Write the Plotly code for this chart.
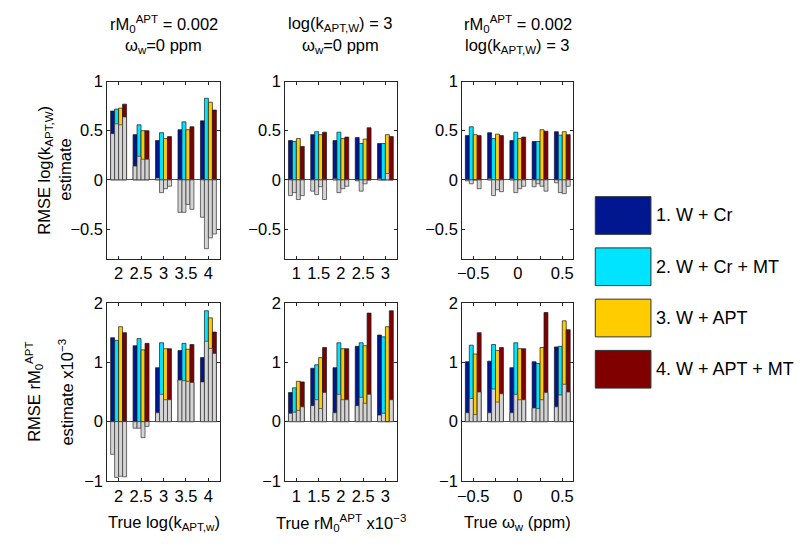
import plotly.graph_objects as go

# ---------------- data ----------------
methods = ["1. W + Cr", "2. W + Cr + MT", "3. W + APT", "4. W + APT + MT"]
colors = ["#00178f", "#00e4ff", "#ffcc00", "#800000"]
bias_color = "#d4d4d4"

x_logk = [2, 2.5, 3, 3.5, 4]
x_rm0 = [1, 1.5, 2, 2.5, 3]
x_omega = [-0.5, -0.25, 0, 0.25, 0.5]

xticktext_logk = ["2", "2.5", "3", "3.5", "4"]
xticktext_rm0 = ["1", "1.5", "2", "2.5", "3"]
xticktext_omega = ["\u22120.5", "", "0", "", "0.5"]

# RMSE of log(k_APT,W) estimate (rows = methods 1..4)
k_rmse_vs_logk = [[0.70, 0.46, 0.40, 0.51, 0.60],
                  [0.72, 0.56, 0.48, 0.59, 0.83],
                  [0.73, 0.50, 0.42, 0.51, 0.79],
                  [0.77, 0.50, 0.44, 0.54, 0.71]]
k_bias_vs_logk = [[0.47, 0.14, 0.02, -0.33, -0.38],
                  [0.57, 0.24, -0.13, -0.33, -0.70],
                  [0.56, 0.21, -0.09, -0.25, -0.59],
                  [0.64, 0.21, -0.065, -0.30, -0.55]]

k_rmse_vs_rm0 = [[0.40, 0.46, 0.40, 0.43, 0.37],
                 [0.39, 0.49, 0.485, 0.37, 0.37],
                 [0.42, 0.46, 0.42, 0.415, 0.46],
                 [0.34, 0.485, 0.435, 0.53, 0.44]]
k_bias_vs_rm0 = [[-0.16, -0.115, 0.015, -0.01, 0.015],
                 [-0.13, -0.15, -0.13, -0.115, 0.0],
                 [-0.20, -0.07, -0.09, -0.04, 0.065],
                 [-0.16, -0.20, -0.065, 0.0, 0.0]]

k_rmse_vs_omega = [[0.45, 0.48, 0.40, 0.39, 0.49],
                   [0.54, 0.42, 0.485, 0.39, 0.455],
                   [0.46, 0.465, 0.42, 0.51, 0.49],
                   [0.45, 0.45, 0.435, 0.495, 0.46]]
k_bias_vs_omega = [[-0.01, 0.015, 0.015, -0.07, -0.03],
                   [-0.04, -0.16, -0.13, -0.04, -0.13],
                   [0.0, -0.10, -0.09, -0.065, -0.14],
                   [-0.09, -0.12, -0.065, -0.115, -0.065]]

# RMSE of rM0^APT estimate (x10^-3)
m_rmse_vs_logk = [[1.415, 1.28, 0.91, 1.20, 1.08],
                  [1.37, 1.40, 1.33, 1.32, 1.87],
                  [1.60, 1.21, 1.23, 1.22, 1.75],
                  [1.50, 1.32, 1.23, 1.30, 1.51]]
m_bias_vs_logk = [[-0.55, -0.11, 0.15, 0.70, 0.67],
                  [-0.94, -0.11, 0.46, 0.69, 1.355],
                  [-0.92, -0.27, 0.37, 0.68, 1.235],
                  [-0.93, -0.08, 0.37, 0.66, 1.15]]

m_rmse_vs_rm0 = [[0.49, 0.90, 0.91, 1.27, 1.46],
                 [0.57, 0.96, 1.33, 1.33, 1.43],
                 [0.68, 1.08, 1.23, 1.28, 1.60],
                 [0.67, 1.25, 1.23, 1.83, 1.87]]
m_bias_vs_rm0 = [[0.14, 0.27, 0.15, 0.27, 0.11],
                 [0.16, 0.37, 0.46, 0.41, 0.14],
                 [0.19, 0.22, 0.37, 0.31, 0.0],
                 [0.25, 0.49, 0.37, 0.46, 0.37]]

m_rmse_vs_omega = [[1.01, 1.02, 0.91, 1.01, 1.26],
                   [1.29, 1.30, 1.33, 0.98, 1.27],
                   [1.14, 1.20, 1.23, 1.25, 1.70],
                   [1.50, 1.25, 1.23, 1.84, 1.55]]
m_bias_vs_omega = [[0.15, 0.15, 0.15, 0.23, 0.25],
                   [0.39, 0.55, 0.46, 0.22, 0.45],
                   [0.12, 0.33, 0.37, 0.37, 0.63],
                   [0.50, 0.47, 0.37, 0.49, 0.50]]

col_titles = [["rM<sub>0</sub><sup>APT</sup> = 0.002", "\u03c9<sub>w</sub>=0 ppm"],
              ["log(k<sub>APT,W</sub>) = 3", "\u03c9<sub>w</sub>=0 ppm"],
              ["rM<sub>0</sub><sup>APT</sup> = 0.002", "log(k<sub>APT,W</sub>) = 3"]]
x_titles = ["True log(k<sub>APT,w</sub>)",
            "True rM<sub>0</sub><sup>APT</sup> x10<sup>\u22123</sup>",
            "True \u03c9<sub>w</sub> (ppm)"]
y_titles = [["RMSE log(k<sub>APT,W</sub>)", "estimate"],
            ["RMSE rM<sub>0</sub><sup>APT</sup>", "estimate x10<sup>\u22123</sup>"]]

# ---------------- layout geometry ----------------
W, H = 800, 548
FONT = "Liberation Sans, Arial, Helvetica, sans-serif"
FS = 16.5
col_px = [(103, 216), (282, 394), (460, 572)]
row_px = [(75, 258), (304, 488)]
row_ranges = [[-0.8, 1], [-1, 2]]
row_ticks = [([-0.5, 0, 0.5, 1], ["\u22120.5", "0", "0.5", "1"]),
             ([-1, 0, 1, 2], ["\u22121", "0", "1", "2"])]
col_x = [x_logk, x_rm0, x_omega]
col_ticktext = [xticktext_logk, xticktext_rm0, xticktext_omega]
col_ranges = [[1.75, 4.25], [0.75, 3.25], [-0.625, 0.625]]

panels = [
    (0, 0, k_rmse_vs_logk, k_bias_vs_logk),
    (0, 1, k_rmse_vs_rm0, k_bias_vs_rm0),
    (0, 2, k_rmse_vs_omega, k_bias_vs_omega),
    (1, 0, m_rmse_vs_logk, m_bias_vs_logk),
    (1, 1, m_rmse_vs_rm0, m_bias_vs_rm0),
    (1, 2, m_rmse_vs_omega, m_bias_vs_omega),
]

fig = go.Figure()
layout_axes = {}
for i, (r, c, rmse, bias) in enumerate(panels):
    n = i + 1
    xa = "x" if n == 1 else f"x{n}"
    ya = "y" if n == 1 else f"y{n}"
    xs = col_x[c]
    for m in range(4):
        fig.add_trace(go.Bar(x=xs, y=rmse[m], xaxis=xa, yaxis=ya,
                             offsetgroup=str(m), name=methods[m], showlegend=False,
                             marker=dict(color=colors[m], line=dict(color="#1a1a1a", width=0.7))))
    for m in range(4):
        fig.add_trace(go.Bar(x=xs, y=bias[m], xaxis=xa, yaxis=ya,
                             offsetgroup=str(m), name=methods[m] + " bias", showlegend=False,
                             marker=dict(color=bias_color, line=dict(color="#333333", width=0.7))))
    x0, x1 = col_px[c]
    y0, y1 = row_px[r]
    axis_common = dict(showline=True, linecolor="#262626", linewidth=1, mirror="ticks",
                       ticks="inside", ticklen=3, tickcolor="#262626", showgrid=False,
                       tickfont=dict(family=FONT, size=FS, color="black"))
    layout_axes["xaxis" if n == 1 else f"xaxis{n}"] = dict(
        domain=[x0 / W, x1 / W], anchor=ya, range=col_ranges[c],
        tickmode="array", tickvals=xs, ticktext=col_ticktext[c], zeroline=False,
        **axis_common)
    tv, tt = row_ticks[r]
    layout_axes["yaxis" if n == 1 else f"yaxis{n}"] = dict(
        domain=[1 - y1 / H, 1 - y0 / H], anchor=xa, range=row_ranges[r],
        tickmode="array", tickvals=tv, ticktext=tt,
        zeroline=True, zerolinecolor="#555555", zerolinewidth=1,
        **axis_common)

annotations = []
title_line_y = [15, 38]
for c in range(3):
    xc = (col_px[c][0] + col_px[c][1]) / 2 / W
    for k in range(2):
        annotations.append(dict(x=xc, y=1 - title_line_y[k] / H, xref="paper", yref="paper",
                                text=col_titles[c][k], showarrow=False,
                                xanchor="center", yanchor="middle",
                                font=dict(family=FONT, size=FS, color="black")))
    annotations.append(dict(x=xc, y=1 - 531 / H, xref="paper", yref="paper", text=x_titles[c],
                            showarrow=False, xanchor="center", yanchor="middle",
                            font=dict(family=FONT, size=FS, color="black")))
ytitle_line_x = [[40, 60], [29, 61]]
for r in range(2):
    yc = 1 - (row_px[r][0] + row_px[r][1]) / 2 / H
    for k in range(2):
        annotations.append(dict(x=ytitle_line_x[r][k] / W, y=yc, xref="paper", yref="paper",
                                text=y_titles[r][k], showarrow=False,
                                xanchor="center", yanchor="middle", textangle=-90,
                                font=dict(family=FONT, size=FS, color="black")))

shapes = []
leg_top = [194, 247, 300, 353]
for m in range(4):
    t = leg_top[m]
    shapes.append(dict(type="rect", xref="paper", yref="paper",
                       x0=594 / W, x1=650 / W, y0=1 - (t + 39) / H, y1=1 - t / H,
                       fillcolor=colors[m], line=dict(color="#333333", width=1)))
    annotations.append(dict(x=653 / W, y=1 - (t + 19.5) / H, xref="paper", yref="paper",
                            text=methods[m], showarrow=False, xanchor="left", yanchor="middle",
                            font=dict(family=FONT, size=18, color="black")))

fig.update_layout(width=W, height=H, margin=dict(l=0, r=0, t=0, b=0),
                  paper_bgcolor="white", plot_bgcolor="white",
                  barmode="group", bargap=0.29, bargroupgap=0,
                  showlegend=False, annotations=annotations, shapes=shapes,
                  font=dict(family=FONT, size=FS, color="black"),
                  **layout_axes)

fig.write_html("out.html", config={"displayModeBar": False},
               post_script="document.body.style.margin='0';document.body.style.overflow='hidden';")
